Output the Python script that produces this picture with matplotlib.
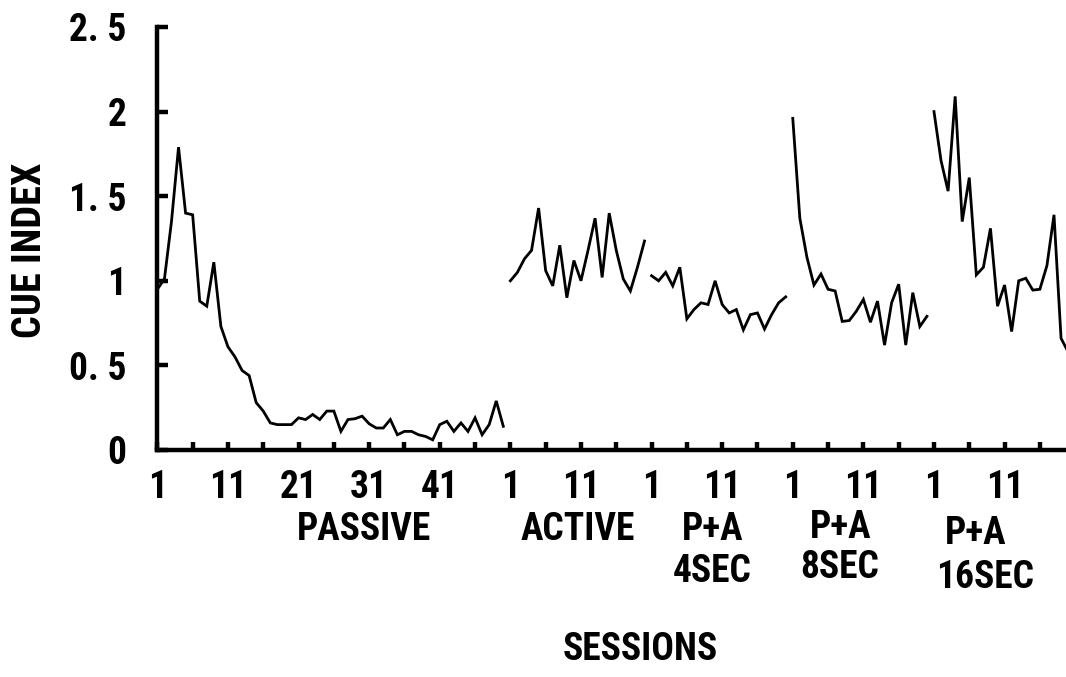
#
# Cue index per session for the five training conditions

import numpy as np
import matplotlib.pyplot as plt
import matplotlib.transforms as mtransforms
from matplotlib import font_manager

# cue index, one value per session
passive = [0.95, 1.01, 1.35, 1.79, 1.40, 1.39, 0.88, 0.85, 1.11, 0.73,
           0.61, 0.55, 0.47, 0.44, 0.28, 0.23, 0.16, 0.15, 0.15, 0.15,
           0.19, 0.18, 0.21, 0.18, 0.23, 0.23, 0.11, 0.18, 0.185, 0.20,
           0.155, 0.13, 0.13, 0.18, 0.09, 0.11, 0.11, 0.09, 0.08, 0.06,
           0.15, 0.17, 0.11, 0.16, 0.11, 0.19, 0.09, 0.15, 0.29, 0.14]
active = [1.00, 1.05, 1.13, 1.18, 1.43, 1.06, 0.97, 1.21, 0.90, 1.12,
          1.00, 1.18, 1.37, 1.02, 1.40, 1.18, 1.01, 0.94, 1.08, 1.235]
pa_4sec = [1.03, 1.00, 1.05, 0.97, 1.08, 0.775, 0.83, 0.87, 0.86, 1.00,
           0.86, 0.81, 0.83, 0.71, 0.80, 0.81, 0.715, 0.80, 0.87, 0.905]
pa_8sec = [1.96, 1.37, 1.14, 0.975, 1.04, 0.95, 0.94, 0.76, 0.765, 0.82,
           0.89, 0.755, 0.88, 0.62, 0.87, 0.98, 0.62, 0.93, 0.73, 0.79]
pa_16sec = [2.00, 1.71, 1.53, 2.09, 1.35, 1.61, 1.035, 1.08, 1.31, 0.85,
            0.975, 0.70, 1.00, 1.015, 0.945, 0.95, 1.09, 1.39, 0.66, 0.58]

groups = [passive, active, pa_4sec, pa_8sec, pa_16sec]
session_labels = ['1', '11', '21', '31', '41', '1', '11', '1', '11',
                  '1', '11', '1', '11']
y_values = [0, 0.5, 1, 1.5, 2, 2.5]
y_labels = ['0', '0. 5', '1', '1. 5', '2', '2. 5']


def pick_font():
    # look for a narrow sans, the original uses a condensed gothic face
    for name in ['Liberation Sans Narrow', 'DejaVu Sans Condensed',
                 'Roboto Condensed', 'Open Sans Condensed']:
        try:
            font_manager.findfont(name, fallback_to_default=False)
            return name
        except ValueError:
            pass
    return 'DejaVu Sans'


font = pick_font()
plt.rcParams['font.family'] = [font, 'DejaVu Sans']
plt.rcParams['font.size'] = 27
plt.rcParams['font.weight'] = 'bold'

W, H = 1066, 677
fig = plt.figure(figsize=(W / 100, H / 100), dpi=100)
ax = fig.add_axes([157 / W, 227 / H, (W - 157) / W, 423 / H])

start = 0
for g in groups:
    x = start + np.arange(len(g))
    ax.plot(x, g, color='black', lw=2.0, solid_joinstyle='miter')
    start += len(g)

ax.set_xlim(-0.05, 128.7)
ax.set_ylim(0, 2.5)

ax.set_xticks(np.arange(0, 129, 5), minor=True)
ax.set_xticks(np.arange(len(session_labels)) * 10)
ax.set_xticklabels(session_labels)
ax.set_yticks(y_values)
ax.set_yticklabels(y_labels)

for s in ['top', 'right']:
    ax.spines[s].set_visible(False)
for s in ['left', 'bottom']:
    ax.spines[s].set_linewidth(3.2)
    ax.spines[s].set_capstyle('projecting')

ax.tick_params(axis='x', which='both', direction='in', length=5.5,
               width=3.2, pad=14)
ax.tick_params(axis='y', direction='in', length=8, width=3.2, pad=22)

# group names under the session numbers
tr = mtransforms.blended_transform_factory(ax.transData, fig.transFigure)
ax.text(29.2, 1 - 530 / H, 'PASSIVE', transform=tr, ha='center', va='center')
ax.text(59.6, 1 - 530 / H, 'ACTIVE', transform=tr, ha='center', va='center')
ax.text(78.6, 1 - 530 / H, 'P+A', transform=tr, ha='center', va='center')
ax.text(78.6, 1 - 572 / H, '4SEC', transform=tr, ha='center', va='center')
ax.text(96.8, 1 - 527 / H, 'P+A', transform=tr, ha='center', va='center')
ax.text(96.6, 1 - 567 / H, '8SEC', transform=tr, ha='center', va='center')
ax.text(115.9, 1 - 533 / H, 'P+A', transform=tr, ha='center', va='center')
ax.text(117.3, 1 - 577 / H, '16SEC', transform=tr, ha='center', va='center')

fig.text(640 / W, 1 - 650 / H, 'SESSIONS', ha='center', va='center')
fig.text(30 / W, 1 - 250 / H, 'CUE INDEX', rotation=90,
         ha='center', va='center', fontsize=29)

fig.savefig('out.png', dpi=100)
